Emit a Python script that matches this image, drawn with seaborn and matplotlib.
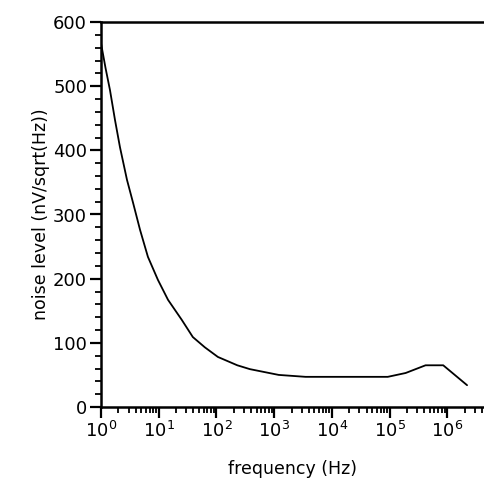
import numpy as np
import pandas as pd
import seaborn as sns
import matplotlib.pyplot as plt
from matplotlib.ticker import MultipleLocator, LogLocator, NullFormatter

# values
freq_hz = [1.0, 1.2, 1.43, 1.75, 2.13, 2.82, 3.6, 4.75, 6.5, 9.7, 14.5, 25,
           39, 63, 106, 230, 380, 1.2e3, 3.5e3, 9.3e4, 1.9e5, 4.2e5, 8.5e5, 2.2e6]
noise_nv = [567, 528, 494, 447, 405, 354, 318, 276, 234, 198, 167, 136,
            109, 93, 78, 65, 59, 50, 47, 47, 53, 65, 65, 34]

y_ticks = [0, 100, 200, 300, 400, 500, 600]

df = pd.DataFrame({"frequency": freq_hz, "noise": noise_nv})

sns.set_theme(style="ticks")
plt.rcParams["font.family"] = ["DejaVu Sans"]

fig = plt.figure(figsize=(4.85, 4.83), dpi=100)
ax = fig.add_axes([101 / 485, 1 - 407 / 483, 1 - 101 / 485, (407 - 22) / 483])

sns.lineplot(data=df, x="frequency", y="noise", color="black", linewidth=1.3, ax=ax)

ax.set_xscale("log")
ax.set_xlim(1, 4.5e6)
ax.set_ylim(0, 600)
ax.set_yticks(y_ticks)
ax.yaxis.set_minor_locator(MultipleLocator(20))
ax.xaxis.set_major_locator(LogLocator(base=10, numticks=10))
ax.xaxis.set_minor_locator(LogLocator(base=10, subs=np.arange(2, 10), numticks=20))
ax.xaxis.set_minor_formatter(NullFormatter())

for side in ["left", "bottom", "top"]:
    ax.spines[side].set_linewidth(1.8)
    ax.spines[side].set_color("black")
ax.spines["right"].set_visible(False)

ax.tick_params(axis="both", which="major", direction="out", length=8, width=1.6,
               labelsize=13, colors="black", pad=2)
ax.tick_params(axis="both", which="minor", direction="out", length=4, width=1.3,
               colors="black")
ax.tick_params(top=False, right=False, which="both")

ax.set_xlabel("frequency (Hz)", fontsize=12.5, labelpad=14, color="black")
ax.set_ylabel("noise level (nV/sqrt(Hz))", fontsize=12.5, labelpad=2, color="black")

fig.savefig("out.png", dpi=100)
